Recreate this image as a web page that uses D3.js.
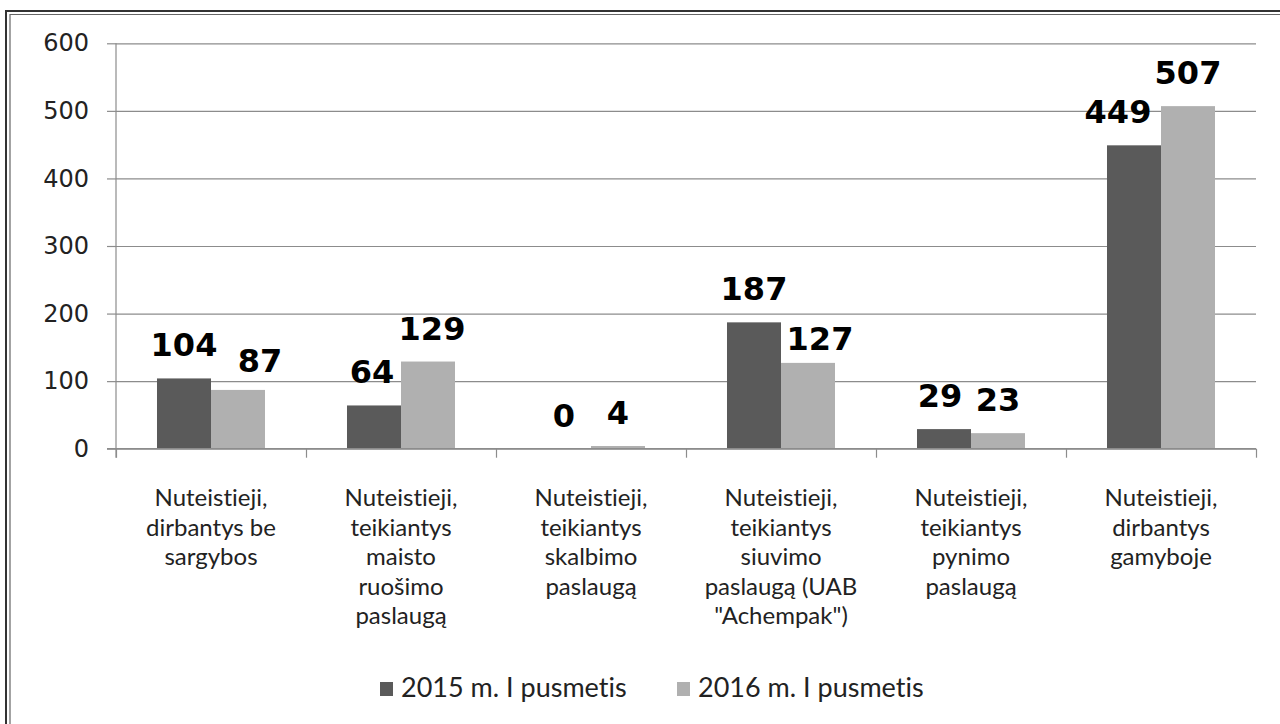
<!DOCTYPE html>
<html>
<head>
<meta charset="utf-8">
<script src="https://cdn.jsdelivr.net/npm/d3@7"></script>
<style>
body { margin: 0; background: #fff; }
text { font-variant-ligatures: none; }
</style>
</head>
<body>
<svg id="chart" width="1280" height="724"></svg>
<script>
// duomenys
var categories = [
    "Nuteistieji,\ndirbantys be\nsargybos",
    "Nuteistieji,\nteikiantys\nmaisto\nruošimo\npaslaugą",
    "Nuteistieji,\nteikiantys\nskalbimo\npaslaugą",
    "Nuteistieji,\nteikiantys\nsiuvimo\npaslaugą (UAB\n\"Achempak\")",
    "Nuteistieji,\nteikiantys\npynimo\npaslaugą",
    "Nuteistieji,\ndirbantys\ngamyboje"
];
var seriesNames = ["2015 m. I pusmetis", "2016 m. I pusmetis"];
var values2015 = [104, 64, 0, 187, 29, 449];
var values2016 = [87, 129, 4, 127, 23, 507];
var yTicks = [0, 100, 200, 300, 400, 500, 600];

// išdėstymas
var plotLeft = 116, plotRight = 1256, plotTop = 43.3, plotBottom = 448.7;
var colors = ["#5a5a5a", "#b0b0b0"];
// rankiniai etikečių poslinkiai (kaip originale)
var labelShift = [
    [[0, 0], [22, 4]],
    [[-2, 0], [4, 0]],
    [[0, 0], [0, 0]],
    [[0, 0], [12, 9]],
    [[-4, 0], [0, 0]],
    [[-16, 0], [0, 0]]
];

var svg = d3.select("#chart");

// rėmelis
svg.append("path").attr("d", "M6,724V11H1280")
    .attr("fill", "none").attr("stroke", "#333").attr("stroke-width", 2);
svg.append("path").attr("d", "M10,724V14.5H1280")
    .attr("fill", "none").attr("stroke", "#666").attr("stroke-width", 1.2);

var y = d3.scaleLinear().domain([0, 600]).range([plotBottom, plotTop]);
var x = d3.scaleBand().domain(d3.range(categories.length)).range([plotLeft, plotRight]);
var xs = d3.scaleBand().domain(seriesNames).range([0, x.bandwidth()]).paddingOuter(0.759);
var xEdge = d3.scaleLinear().domain([0, categories.length]).range([plotLeft, plotRight]);

// tinklelis
var grid = svg.append("g").attr("transform", "translate(" + plotLeft + ",0)")
    .call(d3.axisLeft(y).tickValues(yTicks).tickSizeInner(-(plotRight - plotLeft)).tickSizeOuter(0).tickFormat(""));
grid.select(".domain").remove();
grid.selectAll(".tick line").attr("stroke", "#8c8c8c").attr("stroke-width", 1.2);

// y ašis
var yAxis = svg.append("g").attr("transform", "translate(" + plotLeft + ",0)")
    .call(d3.axisLeft(y).tickValues(yTicks).tickSizeInner(9).tickSizeOuter(0).tickPadding(18));
yAxis.select(".domain").attr("stroke", "#8c8c8c").attr("stroke-width", 1.2)
    .attr("d", "M0," + plotTop + "V" + (plotBottom + 9));
yAxis.selectAll(".tick line").attr("stroke", "#8c8c8c").attr("stroke-width", 1.2);
yAxis.selectAll(".tick text").attr("font-family", "DejaVu Sans").attr("font-size", 24)
    .attr("fill", "#222");

// stulpeliai
var data = categories.map(function (c, i) {
    return [values2015[i], values2016[i]];
});
var groups = svg.append("g").selectAll("g").data(data).enter().append("g")
    .attr("transform", function (d, i) { return "translate(" + x(i) + ",0)"; });
groups.selectAll("rect").data(function (d) { return d; }).enter().append("rect")
    .attr("x", function (d, j) { return xs(seriesNames[j]); })
    .attr("width", xs.bandwidth())
    .attr("y", function (d) { return y(d); })
    .attr("height", function (d) { return plotBottom - y(d); })
    .attr("fill", function (d, j) { return colors[j]; });

// x ašis
var xAxis = svg.append("g").attr("transform", "translate(0," + plotBottom + ")")
    .call(d3.axisBottom(xEdge).tickValues(d3.range(categories.length + 1)).tickSizeInner(9).tickSizeOuter(0).tickFormat(""));
xAxis.select(".domain").attr("stroke", "#8c8c8c").attr("stroke-width", 1.2)
    .attr("d", "M" + (plotLeft - 9) + ",0H" + plotRight);
xAxis.selectAll(".tick line").attr("stroke", "#8c8c8c").attr("stroke-width", 1.2);

// reikšmių etiketės
groups.each(function (d, i) {
    d3.select(this).selectAll("text.val").data(d).enter().append("text")
        .attr("class", "val")
        .attr("x", function (v, j) { return xs(seriesNames[j]) + xs.bandwidth() / 2 + labelShift[i][j][0]; })
        .attr("y", function (v, j) { return y(v) - 22 + labelShift[i][j][1]; })
        .attr("text-anchor", "middle")
        .attr("font-family", "DejaVu Sans").attr("font-weight", "bold").attr("font-size", 32)
        .attr("fill", "#000")
        .text(function (v) { return v; });
});

// kategorijų pavadinimai
var catLabels = svg.append("g").selectAll("text").data(categories).enter().append("text")
    .attr("x", function (d, i) { return x(i) + x.bandwidth() / 2; })
    .attr("y", 506)
    .attr("text-anchor", "middle")
    .attr("font-family", "Lato").attr("font-size", 24).attr("fill", "#222");
catLabels.selectAll("tspan").data(function (d) { return d.split("\n"); }).enter().append("tspan")
    .attr("x", function () { return d3.select(this.parentNode).attr("x"); })
    .attr("dy", function (d, k) { return k === 0 ? 0 : 29.5; })
    .text(function (d) { return d; });

// legenda
var legendX = [380, 677];
var legend = svg.append("g").selectAll("g").data(seriesNames).enter().append("g")
    .attr("transform", function (d, i) { return "translate(" + legendX[i] + ",682)"; });
legend.append("rect").attr("width", 13).attr("height", 14)
    .attr("fill", function (d, i) { return colors[i]; });
legend.append("text").attr("x", 21).attr("y", 15)
    .attr("font-family", "Lato").attr("font-size", 27).attr("fill", "#222")
    .text(function (d) { return d; });
</script>
</body>
</html>
